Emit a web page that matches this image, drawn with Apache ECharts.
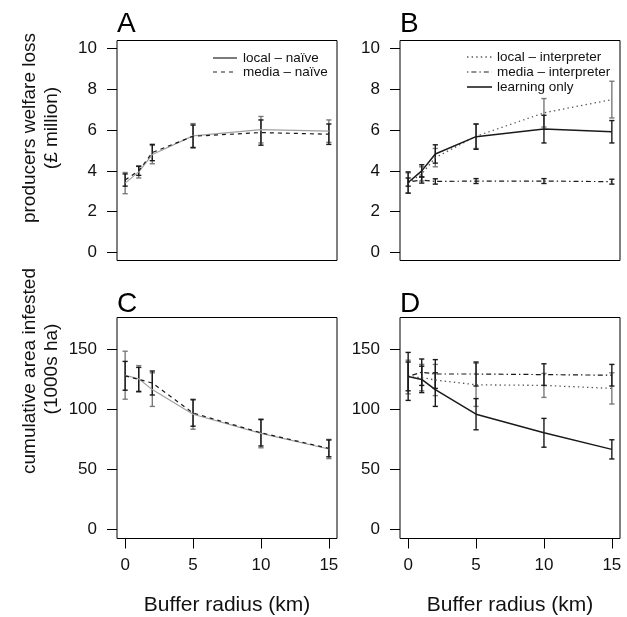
<!DOCTYPE html>
<html>
<head>
<meta charset="utf-8">
<script src="https://cdn.jsdelivr.net/npm/echarts@6/dist/echarts.min.js"></script>
<style>
html,body{margin:0;padding:0;background:#fff;}
#chart{width:627px;height:617px;}
</style>
</head>
<body>
<div id="chart"></div>
<script>
// ---- data ----
const bufferRadius = [0, 1, 2, 5, 10, 15];
const xTickLabels = [0, 5, 10, 15];
const lossTicks = [0, 2, 4, 6, 8, 10];
const areaTicks = [0, 50, 100, 150];

// Panel A: producers welfare loss (£ million), naive strategies
const localNaiveLoss    = [3.40, 3.95, 4.80, 5.72, 6.02, 5.95];
const localNaiveLossErr = [0.52, 0.30, 0.45, 0.60, 0.65, 0.55];
const mediaNaiveLoss    = [3.55, 4.00, 4.90, 5.70, 5.88, 5.80];
const mediaNaiveLossErr = [0.30, 0.22, 0.40, 0.55, 0.62, 0.50];

// Panel B: producers welfare loss, interpreter strategies
const localInterpLoss    = [3.40, 3.85, 4.65, 5.70, 6.85, 7.50];
const localInterpLossErr = [0.50, 0.35, 0.45, 0.60, 0.70, 0.90];
const mediaInterpLoss    = [3.45, 3.55, 3.48, 3.50, 3.50, 3.47];
const mediaInterpLossErr = [0.20, 0.15, 0.13, 0.12, 0.12, 0.12];
const learningLoss       = [3.43, 4.00, 4.83, 5.68, 6.05, 5.92];
const learningLossErr    = [0.52, 0.30, 0.45, 0.62, 0.68, 0.55];

// Panel C: cumulative area infested (1000s ha), naive strategies
const localNaiveArea    = [128.5, 125.5, 116.5, 96.0, 80.0, 67.0];
const localNaiveAreaErr = [20, 11, 14, 12.5, 12, 8];
const mediaNaiveArea    = [128.0, 125.0, 122.0, 97.0, 80.5, 67.5];
const mediaNaiveAreaErr = [12, 10, 10, 11, 11, 7];

// Panel D: cumulative area infested, interpreter strategies
const localInterpArea    = [127.0, 126.5, 124.5, 120.5, 120.0, 117.5];
const localInterpAreaErr = [14, 11, 13, 18, 10, 13];
const mediaInterpArea    = [127.5, 131.0, 129.5, 129.5, 129.0, 128.5];
const mediaInterpAreaErr = [12, 11, 12, 10, 9, 9];
const learningArea       = [127.5, 125.0, 116.5, 96.0, 80.5, 66.7];
const learningAreaErr    = [20, 11, 14, 13, 12, 8];

// ---- styling ----
const FONT = "'Liberation Sans', Arial, Helvetica, sans-serif";
const GREY_LINE = '#a0a0a0';
const GREY_BAR = '#7a7a7a';
const DARK = '#1a1a1a';
const DOTTED = [1.4, 3.2];
const DASHED = [4, 4];
const DOTDASH = [1.4, 3, 5, 3];

const chart = echarts.init(document.getElementById('chart'), null, {renderer: 'canvas'});

const grids = [
  {left: 117, top: 40.5, width: 220, height: 220},
  {left: 400, top: 40.5, width: 220, height: 220},
  {left: 117, top: 317.5, width: 220, height: 221},
  {left: 400, top: 317.5, width: 220, height: 221}
].map(g => Object.assign({show: true, borderColor: '#000', borderWidth: 1, containLabel: false, backgroundColor: 'transparent'}, g));

function xAxis(gi, withLabels) {
  return {
    type: 'value', gridIndex: gi, min: -0.6, max: 15.6, position: 'bottom',
    axisLine: {show: false, onZero: false},
    splitLine: {show: false},
    axisTick: {show: withLabels, inside: false, length: 10, customValues: xTickLabels, lineStyle: {color: '#000', width: 1}},
    axisLabel: {show: withLabels, customValues: xTickLabels, margin: 18, fontSize: 17, color: '#111', fontFamily: FONT},
    name: withLabels ? 'Buffer radius (km)' : '',
    nameLocation: 'middle', nameGap: 56,
    nameTextStyle: {fontSize: 21, color: '#111', fontFamily: FONT}
  };
}
function yAxis(gi, isLoss) {
  const ticks = isLoss ? lossTicks : areaTicks;
  return {
    type: 'value', gridIndex: gi, position: 'left',
    min: isLoss ? -0.4 : -7.6, max: isLoss ? 10.4 : 176.6,
    axisLine: {show: false, onZero: false},
    splitLine: {show: false},
    axisTick: {show: true, inside: false, length: 10, customValues: ticks, lineStyle: {color: '#000', width: 1}},
    axisLabel: {show: true, customValues: ticks, margin: 20, fontSize: 17, color: '#111', fontFamily: FONT}
  };
}

function lineSeries(name, gi, vals, color, width, dash) {
  return {
    name: name, type: 'line', xAxisIndex: gi, yAxisIndex: gi,
    data: bufferRadius.map((x, i) => [x, vals[i]]),
    symbol: 'none', silent: true, z: 4,
    lineStyle: {color: color, width: width, type: dash || 'solid'},
    animation: false
  };
}
function errSeries(name, gi, vals, errs, color) {
  return {
    name: name + ' (error)', type: 'custom', xAxisIndex: gi, yAxisIndex: gi,
    silent: true, z: 3, animation: false,
    data: bufferRadius.map((x, i) => [x, vals[i] - errs[i], vals[i] + errs[i]]),
    encode: {x: 0, y: [1, 2]},
    renderItem: function (params, api) {
      const lo = api.coord([api.value(0), api.value(1)]);
      const hi = api.coord([api.value(0), api.value(2)]);
      const w = 2.6;
      const st = {stroke: color, lineWidth: 1.4};
      return {type: 'group', children: [
        {type: 'line', shape: {x1: lo[0], y1: lo[1], x2: hi[0], y2: hi[1]}, style: st},
        {type: 'line', shape: {x1: lo[0] - w, y1: lo[1], x2: lo[0] + w, y2: lo[1]}, style: st},
        {type: 'line', shape: {x1: hi[0] - w, y1: hi[1], x2: hi[0] + w, y2: hi[1]}, style: st}
      ]};
    }
  };
}

const series = [
  // A
  errSeries('local – naïve', 0, localNaiveLoss, localNaiveLossErr, GREY_BAR),
  errSeries('media – naïve', 0, mediaNaiveLoss, mediaNaiveLossErr, DARK),
  lineSeries('local – naïve', 0, localNaiveLoss, GREY_LINE, 1.2),
  lineSeries('media – naïve', 0, mediaNaiveLoss, DARK, 1.2, DASHED),
  // B
  errSeries('local – interpreter', 1, localInterpLoss, localInterpLossErr, GREY_BAR),
  errSeries('media – interpreter', 1, mediaInterpLoss, mediaInterpLossErr, DARK),
  errSeries('learning only', 1, learningLoss, learningLossErr, DARK),
  lineSeries('local – interpreter', 1, localInterpLoss, '#555', 1.3, DOTTED),
  lineSeries('media – interpreter', 1, mediaInterpLoss, DARK, 1.2, DOTDASH),
  lineSeries('learning only', 1, learningLoss, DARK, 1.5),
  // C
  errSeries('local – naïve', 2, localNaiveArea, localNaiveAreaErr, GREY_BAR),
  errSeries('media – naïve', 2, mediaNaiveArea, mediaNaiveAreaErr, DARK),
  lineSeries('local – naïve', 2, localNaiveArea, GREY_LINE, 1.2),
  lineSeries('media – naïve', 2, mediaNaiveArea, DARK, 1.2, DASHED),
  // D
  errSeries('local – interpreter', 3, localInterpArea, localInterpAreaErr, GREY_BAR),
  errSeries('media – interpreter', 3, mediaInterpArea, mediaInterpAreaErr, DARK),
  errSeries('learning only', 3, learningArea, learningAreaErr, DARK),
  lineSeries('local – interpreter', 3, localInterpArea, '#555', 1.3, DOTTED),
  lineSeries('media – interpreter', 3, mediaInterpArea, DARK, 1.2, DOTDASH),
  lineSeries('learning only', 3, learningArea, DARK, 1.5)
];

// legends and labels (layout text, not data marks)
function legendRows(x0, lineLen, textX, y0, step, rows) {
  const els = [];
  rows.forEach((r, i) => {
    const y = y0 + i * step;
    els.push({type: 'line', shape: {x1: x0, y1: y, x2: x0 + lineLen, y2: y},
      style: {stroke: r.color, lineWidth: r.width, lineDash: r.dash || null}, z: 10});
    els.push({type: 'text', x: textX, y: y, z: 10,
      style: {text: r.label, fontSize: 13.5, fontFamily: FONT, fill: '#111', textAlign: 'left', textVerticalAlign: 'middle'}});
  });
  return els;
}
function panelLetter(t, x, y) {
  return {type: 'text', x: x, y: y, style: {text: t, fontSize: 28, fontFamily: FONT, fill: '#000', textAlign: 'left', textVerticalAlign: 'middle'}};
}
function yTitle(t, x, y) {
  return {type: 'text', x: x, y: y, rotation: Math.PI / 2,
    style: {text: t, fontSize: 19, fontFamily: FONT, fill: '#111', textAlign: 'center', textVerticalAlign: 'middle'}};
}

const graphic = [].concat(
  legendRows(213, 24, 243, 58, 14, [
    {label: 'local – naïve', color: '#222', width: 1.2},
    {label: 'media – naïve', color: '#222', width: 1.2, dash: DASHED}
  ]),
  legendRows(467, 25, 497, 57, 15, [
    {label: 'local – interpreter', color: '#555', width: 1.3, dash: DOTTED},
    {label: 'media – interpreter', color: '#222', width: 1.2, dash: DOTDASH},
    {label: 'learning only', color: '#111', width: 1.5}
  ]),
  [
    panelLetter('A', 117, 24),
    panelLetter('B', 400, 24),
    panelLetter('C', 117, 304),
    panelLetter('D', 400, 304),
    yTitle('producers welfare loss', 30, 128),
    yTitle('(£ million)', 52, 128),
    yTitle('cumulative area infested', 30, 371),
    yTitle('(1000s ha)', 52, 369)
  ]
);

chart.setOption({
  animation: false,
  backgroundColor: '#fff',
  textStyle: {fontFamily: FONT},
  grid: grids,
  xAxis: [xAxis(0, false), xAxis(1, false), xAxis(2, true), xAxis(3, true)],
  yAxis: [yAxis(0, true), yAxis(1, true), yAxis(2, false), yAxis(3, false)],
  series: series,
  graphic: graphic
});
</script>
</body>
</html>
